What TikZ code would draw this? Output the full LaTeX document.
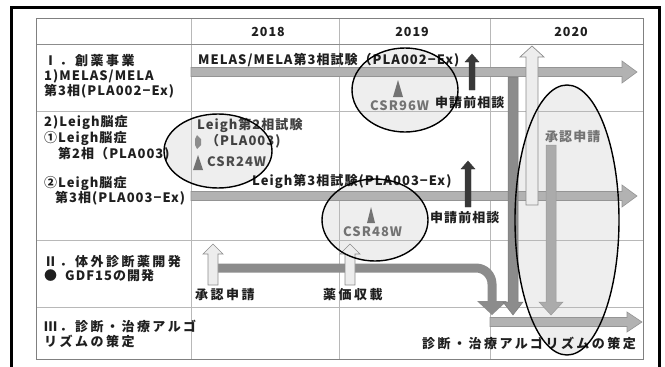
\documentclass[tikz,border=0pt]{standalone}
\usepackage{fontspec}
\setmainfont{Noto Sans CJK JP}
\begin{document}
\begin{tikzpicture}[x=1pt,y=-1pt,
  gridline/.style={draw=black!28,line width=0.9pt},
  tframe/.style={draw=black!50,line width=1pt},
  ellfill/.style={fill=black!9,fill opacity=0.75},
  ellline/.style={draw=black,line width=1.4pt},
  garrow/.style={fill=black!30,draw=black!42,line width=0.6pt},
  darrow/.style={fill=black!78,draw=black!78,line width=0.4pt},
  marrow/.style={fill=black!45,draw=black!52,line width=0.5pt},
  larrow/.style={fill=black!7,draw=black!45,line width=0.7pt},
  txt/.style={anchor=base west,inner sep=0pt,text=black!88,font=\fontsize{13}{13}\selectfont\bfseries\addfontfeature{LetterSpace=8}},
  cjk/.style={anchor=base west,inner sep=0pt,text=black!88,font=\fontsize{13}{13}\selectfont\bfseries\addfontfeature{LetterSpace=19}},
  gtxt/.style={txt,text=black!55},
  hdr/.style={anchor=base,inner sep=0pt,text=black!88,font=\fontsize{12.5}{13}\selectfont\bfseries\addfontfeature{LetterSpace=8}},
  tri/.style={fill=black!55}]
\useasboundingbox (0,0) rectangle (665,367);
% outer frame
\draw[line width=3pt,black] (11,7) -- (659,7) -- (659,372) -- (11,372) -- cycle;
% ellipse fills
\fill[ellfill] (405,90) ellipse [x radius=53,y radius=42];
\fill[ellfill] (218,151) ellipse [x radius=54,y radius=37];
\fill[ellfill] (375,220) ellipse [x radius=53,y radius=41];
\fill[ellfill] (567,220) ellipse [x radius=52,y radius=135];
% grid
\foreach \gx in {191,339,490} \draw[gridline] (\gx,18) -- (\gx,359);
\foreach \gy in {111,240,307} \draw[gridline] (36,\gy) -- (643,\gy);
\draw[draw=black!45,line width=1pt] (36,44) -- (643,44);
\draw[tframe] (36,18) rectangle (643,359);
% header
\node[hdr] (h18) at (268,36) {2018};
\node[hdr] (h19) at (412,36) {2019};
\node[hdr] (h20) at (571,36) {2020};
% left column
\node[cjk] (l1) at (44,65) {Ⅰ．創薬事業};
\node[txt] (l2) at (44,80) {1)MELAS/MELA};
\node[txt] (l3) at (44,95) {第3相(PLA002−Ex)};
\node[txt] (l4) at (44,126) {2)Leigh脳症};
\node[txt] (l5) at (44,142) {①Leigh脳症};
\node[txt] (l6) at (58,158) {第2相（PLA003)};
\node[txt] (l7) at (44,187) {②Leigh脳症};
\node[txt] (l8) at (55,202) {第3相(PLA003−Ex)};
\node[cjk] (l9) at (44,266) {Ⅱ．体外診断薬開発};
\node[txt] (l10) at (44,280) {●\ \ GDF15の開発};
\node[cjk] (l11) at (44,331) {Ⅲ．診断・治療アルゴ};
\node[cjk] (l12) at (44,346) {リズムの策定};
% horizontal gray arrows
\filldraw[garrow] (191,67.5) -- (622,67.5) -- (622,61) -- (637,72) -- (622,83) -- (622,76.5) -- (191,76.5) -- cycle;
\filldraw[garrow] (191,191.5) -- (622,191.5) -- (622,185) -- (637,196) -- (622,207) -- (622,200.5) -- (191,200.5) -- cycle;
\filldraw[garrow] (490,317.5) -- (627,317.5) -- (627,312) -- (642,322) -- (627,332) -- (627,326.5) -- (490,326.5) -- cycle;
% GDF15 bent arrow
\draw[draw=black!45,line width=9pt,rounded corners=16pt] (218,268) -- (492,268) -- (492,303);
\fill[black!45] (477,301) -- (507,301) -- (492,315) -- cycle;
% dark up arrows (pre-application consultation)
\filldraw[darrow] (469,90) -- (469,62) -- (465,62) -- (472,54) -- (479,62) -- (475,62) -- (475,90) -- cycle;
\filldraw[darrow] (465,207) -- (465,169) -- (461,169) -- (468,161) -- (475,169) -- (471,169) -- (471,207) -- cycle;
% vertical bars in 2020
\filldraw[marrow] (508,77) -- (518,77) -- (518,302) -- (523,302) -- (513,315) -- (503,302) -- (508,302) -- cycle;
\filldraw[larrow] (526,205) -- (526,57) -- (520,57) -- (532,46) -- (544,57) -- (538,57) -- (538,205) -- cycle;
\filldraw[fill=black!33,draw=black!40,line width=0.5pt] (546,145) -- (556,145) -- (556,302) -- (563,302) -- (551,315) -- (539,302) -- (546,302) -- cycle;
% light up arrows row 3
\filldraw[larrow] (208,285) -- (208,254) -- (203,254) -- (213,244) -- (223,254) -- (218,254) -- (218,285) -- cycle;
\filldraw[larrow] (345,285) -- (345,254) -- (340,254) -- (350,244) -- (360,254) -- (355,254) -- (355,285) -- cycle;
% markers
\fill[tri] (398,80) -- (403,97) -- (393,97) -- cycle;
\fill[tri] (371,207) -- (375,223) -- (367,223) -- cycle;
\fill[tri] (198,155) -- (203,170) -- (193,170) -- cycle;
\fill[black!45] (197,135) -- (201,139) -- (201,145) -- (197,149) -- (195,145) -- (195,139) -- cycle;
% middle texts
\node[txt] (t1) at (198,64) {MELAS/MELA第3相試験（PLA002−Ex)};
\node[gtxt] (c96) at (370,110) {CSR96W};
\node[txt] (s1) at (435,107) {申請前相談};
\node[txt,text=black!75] (t2) at (197,129) {Leigh第2相試験};
\node[txt,text=black!75] (t3) at (206,145) {（PLA003)};
\node[txt,text=black!70] (c24) at (207,166) {CSR24W};
\node[txt] (t4) at (252,185) {Leigh第3相試験(PLA003−Ex)};
\node[txt] (s2) at (430,222) {申請前相談};
\node[gtxt] (c48) at (343,236) {CSR48W};
\node[gtxt] (a20) at (545,141) {承認申請};
\node[cjk] (a18) at (195,299) {承認申請};
\node[cjk] (yk) at (323,299) {薬価収載};
\node[cjk] (alg) at (422,348) {診断・治療アルゴリズムの策定};
% ellipse outlines
\draw[ellline] (405,90) ellipse [x radius=53,y radius=42];
\draw[ellline] (218,151) ellipse [x radius=54,y radius=37];
\draw[ellline] (375,220) ellipse [x radius=53,y radius=41];
\draw[ellline] (567,220) ellipse [x radius=52,y radius=135];
\end{tikzpicture}
\end{document}
